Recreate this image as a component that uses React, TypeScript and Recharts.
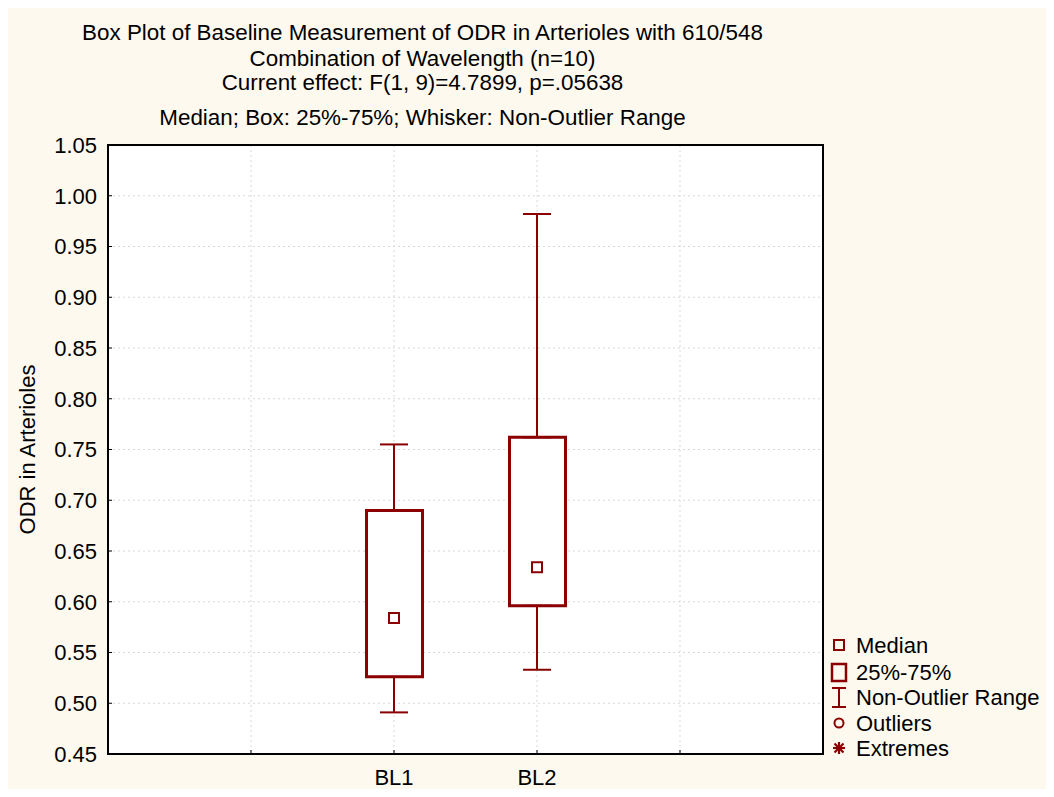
import React from 'react';
import {
  ComposedChart,
  Bar,
  Scatter,
  ErrorBar,
  XAxis,
  YAxis,
  CartesianGrid,
  ReferenceArea,
} from 'recharts';

// ---- data ----
const categories = ['BL1', 'BL2'];
const xPositions = [2, 3];
const mins = [0.491, 0.533];
const q1s = [0.526, 0.596];
const medians = [0.584, 0.634];
const q3s = [0.69, 0.762];
const maxs = [0.755, 0.982];

const yTicks = [0.45, 0.5, 0.55, 0.6, 0.65, 0.7, 0.75, 0.8, 0.85, 0.9, 0.95, 1.0, 1.05];
const xTicks = [1, 2, 3, 4];

const titleLines = [
  'Box Plot of Baseline Measurement of ODR in Arterioles with 610/548',
  'Combination of Wavelength (n=10)',
  'Current effect: F(1, 9)=4.7899, p=.05638',
];
const subtitle = 'Median; Box: 25%-75%; Whisker: Non-Outlier Range';
const yLabel = 'ODR in Arterioles';
const legendLabels = ['Median', '25%-75%', 'Non-Outlier Range', 'Outliers', 'Extremes'];

const data = categories.map((c, i) => ({
  x: xPositions[i],
  name: c,
  box: [q1s[i], q3s[i]],
  q1: q1s[i],
  q3: q3s[i],
  median: medians[i],
  loErr: [q1s[i] - mins[i], 0],
  hiErr: [0, maxs[i] - q3s[i]],
}));

const RED = '#8B0000';
const BG = '#FDF9EF';
const W = 1046;
const H = 781;
const FS = 22;
const FONT = 'Arial, "Liberation Sans", Helvetica, sans-serif';

const Empty = () => <g />;

const MedianShape = (props: any) => {
  const { cx, cy } = props;
  if (cx == null || cy == null) return <g />;
  return (
    <rect x={cx - 5} y={cy - 5} width={10} height={10} fill="#fff" stroke={RED} strokeWidth={2} />
  );
};

const xFmt = (v: number) => {
  const idx = xPositions.indexOf(v);
  return idx >= 0 ? categories[idx] : '';
};

const YLabel = (props: any) => {
  const vb = props.viewBox || {};
  const x = (vb.x || 0) + 19;
  const y = (vb.y || 0) + (vb.height || 0) / 2;
  return (
    <text
      x={x}
      y={y}
      transform={`rotate(-90, ${x}, ${y})`}
      textAnchor="middle"
      dominantBaseline="central"
      fontSize={FS}
      fontFamily={FONT}
      fill="#000"
    >
      {yLabel}
    </text>
  );
};

const legendRows = [637, 664, 689, 715, 740];
const titleBaselines = [32, 57.5, 82];

export default function App() {
  return (
    <div style={{ position: 'relative', width: W, height: H, background: BG, fontFamily: FONT }}>
      <ComposedChart
        width={W}
        height={H}
        data={data}
        margin={{ top: 137, right: 231, left: 0, bottom: 0 }}
        style={{ fontFamily: FONT }}
      >
        <CartesianGrid stroke="#d8d8d8" strokeDasharray="2 3" fill="#fff" />
        <XAxis
          dataKey="x"
          type="number"
          domain={[0, 5]}
          ticks={xTicks}
          tickFormatter={xFmt}
          height={35}
          tickSize={-4}
          tickMargin={19}
          axisLine={{ stroke: '#000', strokeWidth: 2 }}
          tickLine={{ stroke: '#000' }}
          tick={{ fill: '#000', fontSize: FS, fontFamily: FONT }}
          interval={0}
          allowDataOverflow
        />
        <YAxis
          type="number"
          domain={[0.45, 1.05]}
          ticks={yTicks}
          tickFormatter={(v: number) => v.toFixed(2)}
          width={100}
          tickSize={-4}
          tickMargin={15}
          axisLine={{ stroke: '#000', strokeWidth: 2 }}
          tickLine={{ stroke: '#000' }}
          tick={{ fill: '#000', fontSize: FS, fontFamily: FONT }}
          interval={0}
          allowDataOverflow
          label={<YLabel />}
        />
        <ReferenceArea
          x1={0}
          x2={5}
          y1={0.45}
          y2={1.05}
          fill="none"
          fillOpacity={0}
          stroke="#000"
          strokeWidth={2}
          ifOverflow="visible"
        />
        <Scatter dataKey="q1" shape={Empty} isAnimationActive={false} legendType="none">
          <ErrorBar dataKey="loErr" direction="y" width={14} stroke={RED} strokeWidth={2} isAnimationActive={false} />
        </Scatter>
        <Scatter dataKey="q3" shape={Empty} isAnimationActive={false} legendType="none">
          <ErrorBar dataKey="hiErr" direction="y" width={14} stroke={RED} strokeWidth={2} isAnimationActive={false} />
        </Scatter>
        <Bar dataKey="box" barSize={56} fill="#fff" stroke={RED} strokeWidth={3} isAnimationActive={false} />
        <Scatter dataKey="median" shape={MedianShape} isAnimationActive={false} />
      </ComposedChart>
      <svg
        width={W}
        height={H}
        style={{ position: 'absolute', left: 0, top: 0, pointerEvents: 'none' }}
        fontFamily={FONT}
      >
        {titleLines.map((t, i) => (
          <text key={i} x={414.5} y={titleBaselines[i]} textAnchor="middle" fontSize={22.4} fill="#000">
            {t}
          </text>
        ))}
        <text x={414.5} y={117} textAnchor="middle" fontSize={22.4} fill="#000">
          {subtitle}
        </text>
        {/* legend */}
        <rect x={826} y={legendRows[0] - 5} width={10} height={10} fill="none" stroke={RED} strokeWidth={2} />
        <rect x={824} y={legendRows[1] - 8} width={14} height={17} fill="none" stroke={RED} strokeWidth={2.5} />
        <g stroke={RED} strokeWidth={2}>
          <line x1={831} x2={831} y1={legendRows[2] - 9} y2={legendRows[2] + 10} />
          <line x1={824} x2={838} y1={legendRows[2] - 9} y2={legendRows[2] - 9} />
          <line x1={824} x2={838} y1={legendRows[2] + 10} y2={legendRows[2] + 10} />
        </g>
        <circle cx={831} cy={legendRows[3]} r={4.5} fill="none" stroke={RED} strokeWidth={2} />
        <g stroke={RED} strokeWidth={2.2}>
          <line x1={825} x2={837} y1={legendRows[4]} y2={legendRows[4]} />
          <line x1={831} x2={831} y1={legendRows[4] - 6} y2={legendRows[4] + 6} />
          <line x1={826.5} x2={835.5} y1={legendRows[4] - 4.5} y2={legendRows[4] + 4.5} />
          <line x1={826.5} x2={835.5} y1={legendRows[4] + 4.5} y2={legendRows[4] - 4.5} />
        </g>
        {legendLabels.map((l, i) => (
          <text key={l} x={848} y={legendRows[i] + 8} fontSize={FS} fill="#000">
            {l}
          </text>
        ))}
      </svg>
    </div>
  );
}
